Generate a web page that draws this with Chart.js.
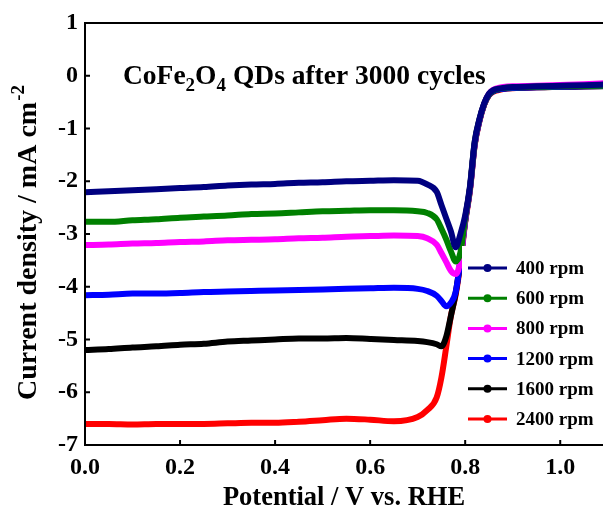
<!DOCTYPE html>
<html>
<head>
<meta charset="utf-8">
<script src="https://cdn.jsdelivr.net/npm/chart.js@4.4.1/dist/chart.umd.min.js"></script>
<style>
  html, body { margin: 0; padding: 0; background: #fff; }
</style>
</head>
<body>
<canvas id="c" width="603" height="515"></canvas>
<script>
// potential (V vs. RHE), shared by all the rotation rates
const potential = [0, 0.05, 0.10, 0.15, 0.20, 0.25, 0.30, 0.35, 0.40, 0.45, 0.50, 0.55, 0.60, 0.65, 0.70,
  0.72, 0.74, 0.75, 0.76, 0.77, 0.78, 0.79, 0.80, 0.81, 0.82, 0.83, 0.84, 0.85, 0.86, 0.87, 0.88,
  0.90, 0.95, 1.00, 1.05, 1.10];

// current density (mA cm-2)
const j400 = [-2.21, -2.19, -2.17, -2.15, -2.13, -2.11, -2.08, -2.06, -2.05, -2.03, -2.02, -2.00, -1.99, -1.98, -1.99,
  -2.06, -2.20, -2.45, -2.70, -2.95, -3.25, -3.00, -2.65, -2.10, -1.25, -0.82, -0.52, -0.34, -0.27, -0.245, -0.23,
  -0.215, -0.20, -0.19, -0.18, -0.165];
const j600 = [-2.77, -2.77, -2.74, -2.72, -2.69, -2.67, -2.65, -2.62, -2.61, -2.59, -2.57, -2.56, -2.55, -2.55, -2.57,
  -2.60, -2.72, -2.90, -3.10, -3.33, -3.52, -3.35, -2.70, -2.12, -1.26, -0.83, -0.53, -0.35, -0.28, -0.25, -0.235,
  -0.22, -0.21, -0.20, -0.195, -0.19];
const j800 = [-3.21, -3.20, -3.18, -3.17, -3.15, -3.14, -3.12, -3.11, -3.10, -3.08, -3.07, -3.05, -3.04, -3.03, -3.04,
  -3.08, -3.20, -3.36, -3.53, -3.70, -3.76, -3.50, -2.72, -2.14, -1.28, -0.84, -0.53, -0.34, -0.26, -0.23, -0.215,
  -0.20, -0.19, -0.175, -0.16, -0.14];
const j1200 = [-4.16, -4.15, -4.13, -4.13, -4.12, -4.10, -4.09, -4.08, -4.07, -4.06, -4.05, -4.04, -4.03, -4.02, -4.04,
  -4.08, -4.17, -4.27, -4.37, -4.30, -4.10, -3.50, -2.75, -2.15, -1.30, -0.85, -0.54, -0.36, -0.29, -0.26, -0.245,
  -0.23, -0.22, -0.21, -0.20, -0.19];
const j1600 = [-5.20, -5.18, -5.15, -5.13, -5.10, -5.08, -5.04, -5.02, -5.00, -4.98, -4.98, -4.97, -4.99, -5.01, -5.03,
  -5.05, -5.09, -5.13, -4.95, -4.55, -4.12, -3.50, -2.75, -2.15, -1.30, -0.85, -0.54, -0.36, -0.29, -0.26, -0.245,
  -0.23, -0.22, -0.21, -0.205, -0.20];
const j2400 = [-6.60, -6.60, -6.61, -6.60, -6.60, -6.60, -6.59, -6.58, -6.58, -6.56, -6.53, -6.50, -6.52, -6.55, -6.47,
  -6.34, -6.10, -5.72, -5.15, -4.55, -4.15, -3.55, -2.78, -2.18, -1.32, -0.86, -0.55, -0.37, -0.30, -0.27, -0.25,
  -0.235, -0.22, -0.21, -0.20, -0.19];

const seriesLabels = ["400 rpm", "600 rpm", "800 rpm", "1200 rpm", "1600 rpm", "2400 rpm"];
const seriesValues = [j400, j600, j800, j1200, j1600, j2400];
const seriesColors = ["#000080", "#008000", "#ff00ff", "#0000ff", "#000000", "#ff0000"];

const xTicks = [0.0, 0.2, 0.4, 0.6, 0.8, 1.0];
const yTicks = [1, 0, -1, -2, -3, -4, -5, -6, -7];

const serif = '"Liberation Serif", "Times New Roman", serif';

const datasets = seriesValues.map((vals, i) => ({
  label: seriesLabels[i],
  data: vals.map((v, k) => ({ x: potential[k], y: v })),
  borderColor: seriesColors[i],
  backgroundColor: seriesColors[i],
  borderWidth: 6,
  pointRadius: 0,
  fill: false,
  cubicInterpolationMode: "monotone"
}));

// frame with inward ticks, legend box, in-plot title and y title with superscript
const decorations = {
  id: "decorations",
  afterDraw(chart) {
    const { ctx, chartArea: a, scales: { x, y } } = chart;
    ctx.save();

    // legend
    ctx.fillStyle = "#fff";
    ctx.fillRect(462, 246, a.right - 462, a.bottom - 247);
    ctx.font = `bold 19px ${serif}`;
    ctx.textBaseline = "middle";
    ctx.textAlign = "left";
    seriesLabels.forEach((lab, i) => {
      const yy = 268 + i * 30.2;
      ctx.strokeStyle = seriesColors[i];
      ctx.lineWidth = 3;
      ctx.beginPath();
      ctx.moveTo(468, yy);
      ctx.lineTo(507, yy);
      ctx.stroke();
      ctx.fillStyle = seriesColors[i];
      ctx.beginPath();
      ctx.arc(487.5, yy, 4, 0, Math.PI * 2);
      ctx.fill();
      ctx.fillStyle = "#000";
      ctx.fillText(lab, 516, yy + 1);
    });

    // axes frame
    ctx.strokeStyle = "#000";
    ctx.lineWidth = 2;
    ctx.beginPath();
    ctx.moveTo(a.right, a.top);
    ctx.lineTo(a.left, a.top);
    ctx.lineTo(a.left, a.bottom);
    ctx.lineTo(a.right, a.bottom);
    ctx.stroke();
    ctx.beginPath();
    xTicks.forEach(v => {
      const px = x.getPixelForValue(v);
      ctx.moveTo(px, a.bottom);
      ctx.lineTo(px, a.bottom - 5);
    });
    yTicks.forEach(v => {
      const py = y.getPixelForValue(v);
      ctx.moveTo(a.left, py);
      ctx.lineTo(a.left + 5, py);
    });
    ctx.stroke();

    // in-plot title with subscripts
    ctx.fillStyle = "#000";
    ctx.textBaseline = "alphabetic";
    let tx = 123;
    const ty = 84;
    [["CoFe", false], ["2", true], ["O", false], ["4", true], [" QDs after 3000 cycles", false]].forEach(([t, sub]) => {
      ctx.font = sub ? `bold 19px ${serif}` : `bold 27.5px ${serif}`;
      ctx.fillText(t, tx, sub ? ty + 7 : ty);
      tx += ctx.measureText(t).width;
    });

    // y axis title with superscript
    ctx.translate(36, 243);
    ctx.rotate(-Math.PI / 2);
    ctx.font = `bold 28px ${serif}`;
    const main = "Current density / mA cm";
    const wMain = ctx.measureText(main).width;
    ctx.font = `bold 19px ${serif}`;
    const wSup = ctx.measureText("-2").width;
    const x0 = -(wMain + wSup) / 2;
    ctx.font = `bold 28px ${serif}`;
    ctx.fillText(main, x0, 0);
    ctx.font = `bold 19px ${serif}`;
    ctx.fillText("-2", x0 + wMain + 1, -12);

    ctx.restore();
  }
};

new Chart(document.getElementById("c"), {
  type: "line",
  data: { datasets },
  options: {
    responsive: false,
    animation: false,
    layout: { padding: { top: 23, right: 0, bottom: 0, left: 0 } },
    plugins: {
      legend: { display: false },
      tooltip: { enabled: false }
    },
    scales: {
      x: {
        type: "linear",
        min: 0,
        max: 1.09,
        afterFit: s => { s.height = 70; },
        afterBuildTicks: s => { s.ticks = xTicks.map(v => ({ value: v })); },
        grid: { display: false, drawTicks: false },
        border: { display: false },
        ticks: {
          color: "#000",
          padding: 8,
          font: { family: serif, size: 24, weight: "bold" },
          callback: v => v.toFixed(1)
        },
        title: {
          display: true,
          text: "Potential / V vs. RHE",
          color: "#000",
          font: { family: serif, size: 26.5, weight: "bold" },
          padding: { top: 0, bottom: 1 }
        }
      },
      y: {
        type: "linear",
        min: -7,
        max: 1,
        afterFit: s => { s.width = 85; },
        afterBuildTicks: s => { s.ticks = yTicks.map(v => ({ value: v })); },
        grid: { display: false, drawTicks: false },
        border: { display: false },
        ticks: {
          color: "#000",
          padding: 7,
          font: { family: serif, size: 24, weight: "bold" },
          callback: v => String(v)
        }
      }
    }
  },
  plugins: [decorations]
});
</script>
</body>
</html>
